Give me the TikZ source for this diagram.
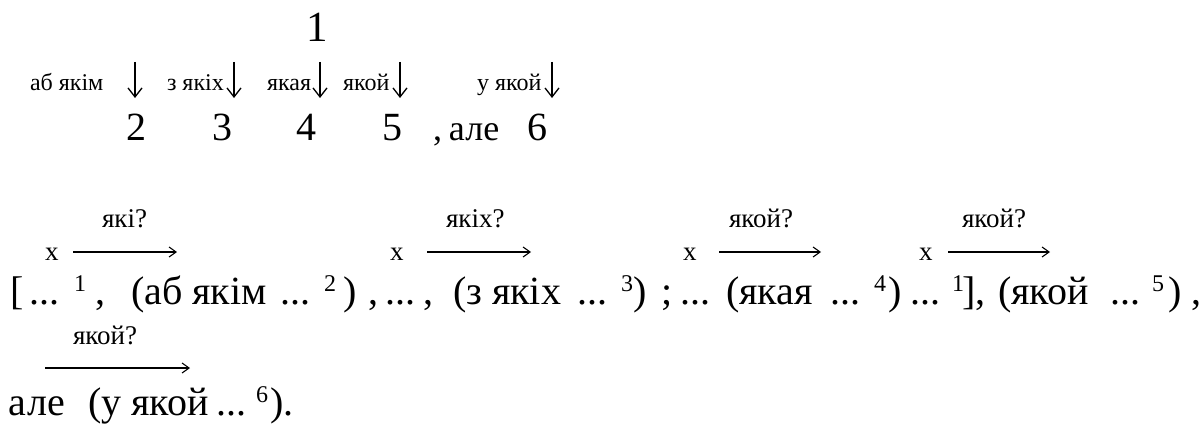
\documentclass[tikz,border=0pt]{standalone}
\usepackage{fontspec}
\setmainfont{Liberation Serif}
\usetikzlibrary{arrows.meta}
\tikzset{
  txt/.style={inner sep=0pt, outer sep=0pt, anchor=base west, font=\rmfamily\fontsize{40}{48}\selectfont},
  big/.style={txt, anchor=base, font=\rmfamily\fontsize{40}{48}\selectfont},
  sml/.style={txt, font=\rmfamily\fontsize{24}{28}\selectfont},
  qst/.style={txt, font=\rmfamily\fontsize{27}{30}\selectfont},
  supt/.style={txt, font=\rmfamily\fontsize{24}{28}\selectfont},
  xlab/.style={txt, font=\rmfamily\fontsize{27}{30}\selectfont},
  harr/.style={line width=1.1pt, -{Straight Barb[length=7pt,width=10pt,line width=1.1pt]}},
  varr/.style={line width=1.3pt, -{Straight Barb[length=9pt,width=14pt,line width=1.3pt]}}
}
\begin{document}
\begin{tikzpicture}[x=1pt,y=-1pt]
\useasboundingbox[fill=white] (0,0) rectangle (1200,428);
% ---------- top scheme ----------
\node[big, font=\rmfamily\fontsize{43}{50}\selectfont] (one) at (317,42) {1};
\node[sml] (l2) at (30,91) {аб якім};
\node[sml] (l3) at (167,91) {з якіх};
\node[sml] (l4) at (267,91) {якая};
\node[sml] (l5) at (343,91) {якой};
\node[sml] (l6) at (477,91) {у якой};
\foreach \n/\xx in {a/135,b/234,c/320,d/400,e/552}{
  \coordinate (vt\n) at (\xx,62);
  \coordinate (vb\n) at (\xx,98);
}
\foreach \n in {a,b,c,d,e}{ \draw[varr] (vt\n) -- (vb\n); }
\node[big] (d2) at (136,140) {2};
\node[big] (d3) at (222,140) {3};
\node[big] (d4) at (306,140) {4};
\node[big] (d5) at (392,140) {5};
\node[txt, font=\rmfamily\fontsize{36}{42}\selectfont] (ale) at (433,140) {,\hspace{7pt}але};
\node[big] (d6) at (537,140) {6};
% ---------- question labels over the main line ----------
\node[qst] (q1) at (102,227) {які?};
\node[qst] (q2) at (446,227) {якіх?};
\node[qst] (q3) at (729,227) {якой?};
\node[qst] (q4) at (962,227) {якой?};
\node[xlab] (x1) at (45,260) {x};
\node[xlab] (x2) at (390,260) {x};
\node[xlab] (x3) at (683,260) {x};
\node[xlab] (x4) at (919,260) {x};
\coordinate (h1s) at (73,252);  \coordinate (h1e) at (177,252);
\coordinate (h2s) at (427,252); \coordinate (h2e) at (531,252);
\coordinate (h3s) at (719,252); \coordinate (h3e) at (821,252);
\coordinate (h4s) at (948,252); \coordinate (h4e) at (1050,252);
\draw[harr] (h1s) -- (h1e);
\draw[harr] (h2s) -- (h2e);
\draw[harr] (h3s) -- (h3e);
\draw[harr] (h4s) -- (h4e);
% ---------- main line ----------
\node[txt] (m1) at (10,304) {[};
\node[txt] (m2) at (29,304) {...};
\node[supt] (s1) at (74,291) {1};
\node[txt] (m3) at (95,304) {,};
\node[txt] (m4) at (131,304) {(аб якім};
\node[txt] (m5) at (280,304) {...};
\node[supt] (s2) at (324,291) {2};
\node[txt] (m6) at (343,304) {)};
\node[txt] (m7) at (368,304) {,};
\node[txt] (m8) at (385,304) {...};
\node[txt] (m9) at (423,304) {,};
\node[txt] (m10) at (453,304) {(з якіх};
\node[txt] (m11) at (577,304) {...};
\node[supt] (s3) at (621,291) {3};
\node[txt] (m12) at (633,304) {)};
\node[txt] (m13) at (661,304) {;};
\node[txt] (m14) at (680,304) {...};
\node[txt] (m15) at (726,304) {(якая};
\node[txt] (m16) at (830,304) {...};
\node[supt] (s4) at (874,291) {4};
\node[txt] (m17) at (888,304) {)};
\node[txt] (m18) at (910,304) {...};
\node[supt] (s5) at (952,291) {1};
\node[txt] (m19) at (962,304) {],};
\node[txt] (m20) at (998,304) {(якой};
\node[txt] (m21) at (1110,304) {...};
\node[supt] (s6) at (1152,291) {5};
\node[txt] (m22) at (1168,304) {)};
\node[txt] (m23) at (1191,304) {,};
% ---------- second line ----------
\node[qst] (q5) at (73,344) {якой?};
\coordinate (h5s) at (45,368); \coordinate (h5e) at (190,368);
\draw[harr] (h5s) -- (h5e);
\node[txt] (n1) at (9,415) {але};
\node[txt] (n2) at (88,415) {(у якой};
\node[txt] (n3) at (216,415) {...};
\node[supt] (s7) at (256,402) {6};
\node[txt] (n4) at (270,415) {).};
\end{tikzpicture}
\end{document}
